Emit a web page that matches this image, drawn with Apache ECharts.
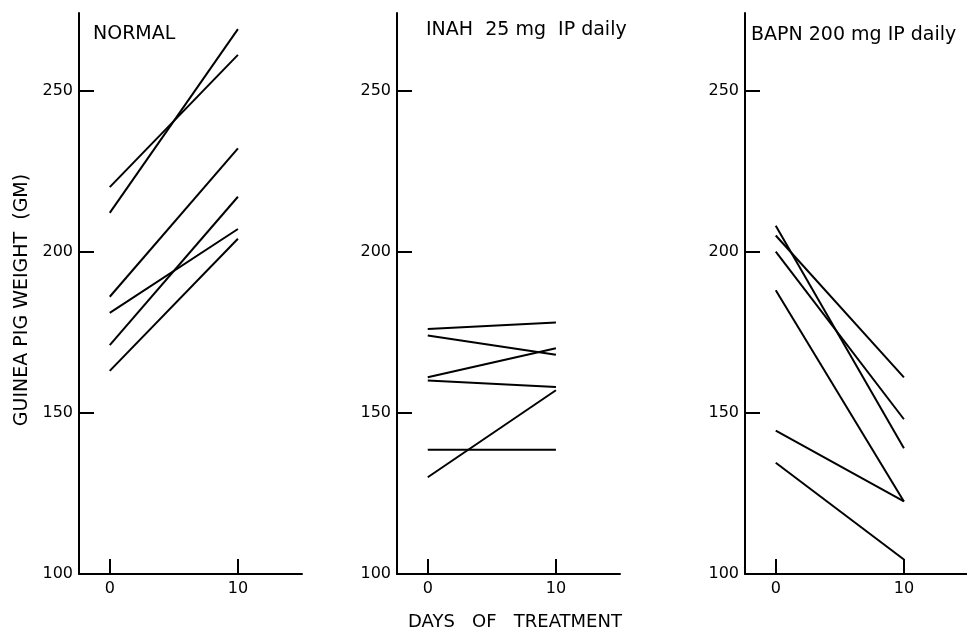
<!DOCTYPE html>
<html>
<head>
<meta charset="utf-8">
<script src="https://cdn.jsdelivr.net/npm/echarts@6/dist/echarts.min.js"></script>
<style>
  html, body { margin: 0; padding: 0; background: #fff; }
  #main { width: 967px; height: 630px; }
</style>
</head>
<body>
<div id="main"></div>
<script>
var days = [0, 10];
// weight at day 0 and day 10, one pair per animal
var normalWeights = [[220, 261], [212, 269], [186, 232], [181, 207], [171, 217], [163, 204]];
var inahWeights = [[176, 178], [174, 168], [161, 170], [160, 158], [130, 157], [138.5, 138.5]];
var bapnWeights = [[208, 139], [205, 161], [200, 148], [188, 122.5], [144.5, 122.5], [134.5, 104.5]];
var panelTitles = ["NORMAL", "INAH  25 mg  IP daily", "BAPN 200 mg IP daily"];
var yTicks = [100, 150, 200, 250];
var xTicks = [0, 10];

var font = "DejaVu Sans";
var panels = [normalWeights, inahWeights, bapnWeights];
var gridLefts = [79, 397, 745];
var titlePos = [[93, 25], [426, 21], [751, 26]];

var grids = [], xAxes = [], yAxes = [], series = [], titles = [];

panels.forEach(function (rows, i) {
  grids.push({
    left: gridLefts[i],
    top: 13,
    width: 223,
    height: 561,
    outerBoundsMode: "none"
  });
  xAxes.push({
    type: "value",
    gridIndex: i,
    min: -2.4,
    max: 15,
    splitLine: { show: false },
    axisLine: { onZero: false, lineStyle: { color: "#000", width: 2 } },
    axisTick: { inside: true, length: 15, customValues: xTicks, lineStyle: { color: "#000", width: 2 } },
    axisLabel: { customValues: xTicks, color: "#000", fontSize: 16, fontFamily: font, margin: 7 }
  });
  yAxes.push({
    type: "value",
    gridIndex: i,
    min: 100,
    max: 274,
    interval: 50,
    splitLine: { show: false },
    axisLine: { show: true, onZero: false, lineStyle: { color: "#000", width: 2 } },
    axisTick: { show: true, inside: true, length: 15, customValues: yTicks, lineStyle: { color: "#000", width: 2 } },
    axisLabel: { customValues: yTicks, color: "#000", fontSize: 16, fontFamily: font, margin: 6 }
  });
  rows.forEach(function (r) {
    series.push({
      type: "line",
      xAxisIndex: i,
      yAxisIndex: i,
      data: days.map(function (d, k) { return [d, r[k]]; }),
      showSymbol: false,
      silent: true,
      lineStyle: { color: "#000", width: 2 }
    });
  });
  titles.push({
    text: panelTitles[i],
    left: titlePos[i][0],
    top: titlePos[i][1],
    padding: 0,
    textStyle: { color: "#000", fontSize: 19, fontWeight: "normal", fontFamily: font }
  });
});

var myChart = echarts.init(document.getElementById("main"));
myChart.setOption({
  animation: false,
  backgroundColor: "#fff",
  title: titles,
  grid: grids,
  xAxis: xAxes,
  yAxis: yAxes,
  series: series,
  graphic: [
    {
      type: "text",
      x: 22,
      y: 300,
      rotation: Math.PI / 2,
      style: {
        text: "GUINEA PIG WEIGHT  (GM)",
        fill: "#000",
        fontSize: 19,
        fontFamily: font,
        align: "center",
        verticalAlign: "middle",
        textAlign: "center",
        textVerticalAlign: "middle"
      }
    },
    {
      type: "text",
      x: 515,
      y: 622,
      style: {
        text: "DAYS   OF   TREATMENT",
        fill: "#000",
        fontSize: 18,
        fontFamily: font,
        align: "center",
        verticalAlign: "middle",
        textAlign: "center",
        textVerticalAlign: "middle"
      }
    }
  ]
});
</script>
</body>
</html>
